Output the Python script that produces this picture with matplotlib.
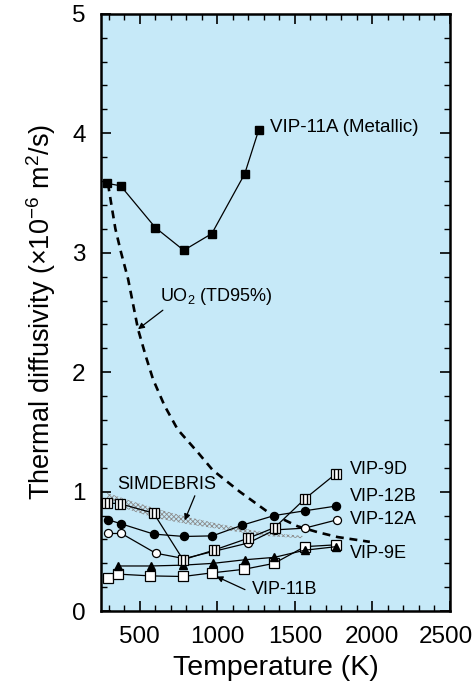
import matplotlib
matplotlib.use("Agg")
from matplotlib import pyplot as plt
from matplotlib.path import Path
from matplotlib.ticker import MultipleLocator
from matplotlib.transforms import ScaledTranslation

plt.rcParams['font.family'] = ['Liberation Sans', 'DejaVu Sans']
plt.rcParams['hatch.linewidth'] = 0.6

# data (temperature in K, diffusivity in 1e-6 m2/s)
vip11a_T = [292, 377, 601, 784, 965, 1177, 1268]
vip11a_D = [3.58, 3.56, 3.21, 3.02, 3.16, 3.66, 4.03]

vip9d_T = [290, 371, 590, 780, 977, 1199, 1371, 1565, 1765]
vip9d_D = [0.905, 0.90, 0.82, 0.43, 0.51, 0.61, 0.70, 0.94, 1.15]

vip12b_T = [296, 382, 590, 786, 969, 1162, 1367, 1565, 1769]
vip12b_D = [0.765, 0.73, 0.645, 0.625, 0.63, 0.72, 0.80, 0.84, 0.88]

vip12a_T = [296, 382, 603, 786, 1199, 1371, 1565, 1775]
vip12a_D = [0.65, 0.65, 0.485, 0.44, 0.57, 0.68, 0.695, 0.765]

vip9e_T = [360, 571, 780, 973, 1177, 1367, 1565, 1769]
vip9e_D = [0.378, 0.378, 0.385, 0.40, 0.43, 0.45, 0.51, 0.54]

vip11b_T = [296, 360, 569, 780, 963, 1171, 1367, 1565, 1765]
vip11b_D = [0.28, 0.31, 0.295, 0.29, 0.32, 0.35, 0.40, 0.54, 0.555]

uo2_T = [295, 320, 343, 380, 425, 489, 540, 586, 660, 745, 874, 971, 1145,
         1326, 1519, 1650, 1777, 1984]
uo2_D = [3.58, 3.38, 3.20, 3.00, 2.78, 2.36, 2.13, 1.94, 1.72, 1.52, 1.33,
         1.18, 1.00, 0.83, 0.71, 0.66, 0.62, 0.58]

sim_T = [290, 450, 600, 800, 1050, 1300, 1550]
sim_hi = [0.99, 0.92, 0.86, 0.79, 0.72, 0.66, 0.63]
sim_lo = [0.92, 0.84, 0.78, 0.73, 0.68, 0.63, 0.61]

x_ticks = [500, 1000, 1500, 2000, 2500]
x_ticklabels = ['500', '1000', '1500', '2000', '2500']

fig = plt.figure(figsize=(4.74, 6.89), dpi=100)
ax = fig.add_axes([0.213, 0.113, 0.736, 0.867])
ax.set_facecolor('#c6e9f8')

# SIMDEBRIS band
ax.fill_between(sim_T, sim_lo, sim_hi, facecolor='none', edgecolor='#8c8c8c',
                hatch='xxxxxxx', linewidth=0, zorder=1)

# UO2 dashed curve
ax.plot(uo2_T, uo2_D, color='black', linewidth=1.9, linestyle=(0, (3.0, 2.2)), zorder=2)

lw = 0.9
ax.plot(vip11a_T, vip11a_D, color='black', lw=lw, marker='s', ms=6,
        mfc='black', mec='black', zorder=3)
ax.plot(vip11b_T, vip11b_D, color='black', lw=lw, marker='s', ms=6.5,
        mfc='white', mec='black', mew=0.9, zorder=3)
ax.plot(vip9e_T, vip9e_D, color='black', lw=lw, marker='^', ms=6,
        mfc='black', mec='black', zorder=4)
ax.plot(vip12b_T, vip12b_D, color='black', lw=lw, marker='o', ms=5.8,
        mfc='black', mec='black', zorder=3)
ax.plot(vip12a_T, vip12a_D, color='black', lw=lw, marker='o', ms=5.8,
        mfc='white', mec='black', mew=0.9, zorder=3)

# barred square marker for VIP-9D
bars = Path([(-0.17, -0.5), (-0.17, 0.5), (0.17, -0.5), (0.17, 0.5)],
            [Path.MOVETO, Path.LINETO, Path.MOVETO, Path.LINETO])
ax.plot(vip9d_T, vip9d_D, color='black', lw=lw, marker='s', ms=6.5,
        mfc='white', mec='black', mew=0.9, zorder=5)
ax.plot(vip9d_T, vip9d_D, linestyle='none', marker=bars, ms=6.5,
        mfc='none', mec='black', mew=1.0, zorder=6)

# labels
fs = 13
ax.text(1339, 4.05, 'VIP-11A (Metallic)', fontsize=13.5, va='center', ha='left')
ax.text(1855, 1.185, 'VIP-9D', fontsize=fs, va='center', ha='left')
ax.text(1855, 0.96, 'VIP-12B', fontsize=fs, va='center', ha='left')
ax.text(1855, 0.77, 'VIP-12A', fontsize=fs, va='center', ha='left')
ax.text(1855, 0.485, 'VIP-9E', fontsize=fs, va='center', ha='left')

arrow = dict(arrowstyle='-|>', color='black', lw=0.9, mutation_scale=9,
             shrinkA=0, shrinkB=0)
ax.annotate('UO$_\\mathregular{2}$ (TD95%)', xy=(489, 2.36), xytext=(629, 2.63),
            fontsize=fs, va='center', ha='left',
            arrowprops=dict(arrow, relpos=(0.06, 0.0)))
ax.annotate('SIMDEBRIS', xy=(790, 0.76), xytext=(352, 1.06), fontsize=fs,
            va='center', ha='left', arrowprops=dict(arrow, relpos=(0.8, 0.0)))
ax.annotate('VIP-11B', xy=(995, 0.29), xytext=(1221, 0.18), fontsize=fs,
            va='center', ha='left', arrowprops=dict(arrow, relpos=(-0.1, 0.5)))

ax.set_xlim(250, 2500)
ax.set_ylim(0, 5)
ax.set_xticks(x_ticks, x_ticklabels)
ax.xaxis.set_minor_locator(MultipleLocator(100))
ax.yaxis.set_major_locator(MultipleLocator(1))
ax.yaxis.set_minor_locator(MultipleLocator(0.2))
ax.tick_params(which='both', direction='in', top=True, right=True, color='black')
ax.tick_params(which='major', length=7, width=1.2, labelsize=17.5, pad=11)
ax.tick_params(which='minor', length=4, width=1.0)
for s in ax.spines.values():
    s.set_linewidth(1.8)

ax.set_xlabel('Temperature (K)', fontsize=20.5, labelpad=5)
ax.set_ylabel('Thermal diffusivity (\u00d710$^{\\mathregular{-6}}$ m$^{\\mathregular{2}}$/s)',
              fontsize=19.5, labelpad=10)

# nudge the last x tick label so it stays inside the figure
for lab in ax.get_xticklabels():
    if lab.get_text() == '2500':
        lab.set_transform(lab.get_transform()
                          + ScaledTranslation(-0.04, 0, fig.dpi_scale_trans))

fig.savefig('out.png', dpi=100)
